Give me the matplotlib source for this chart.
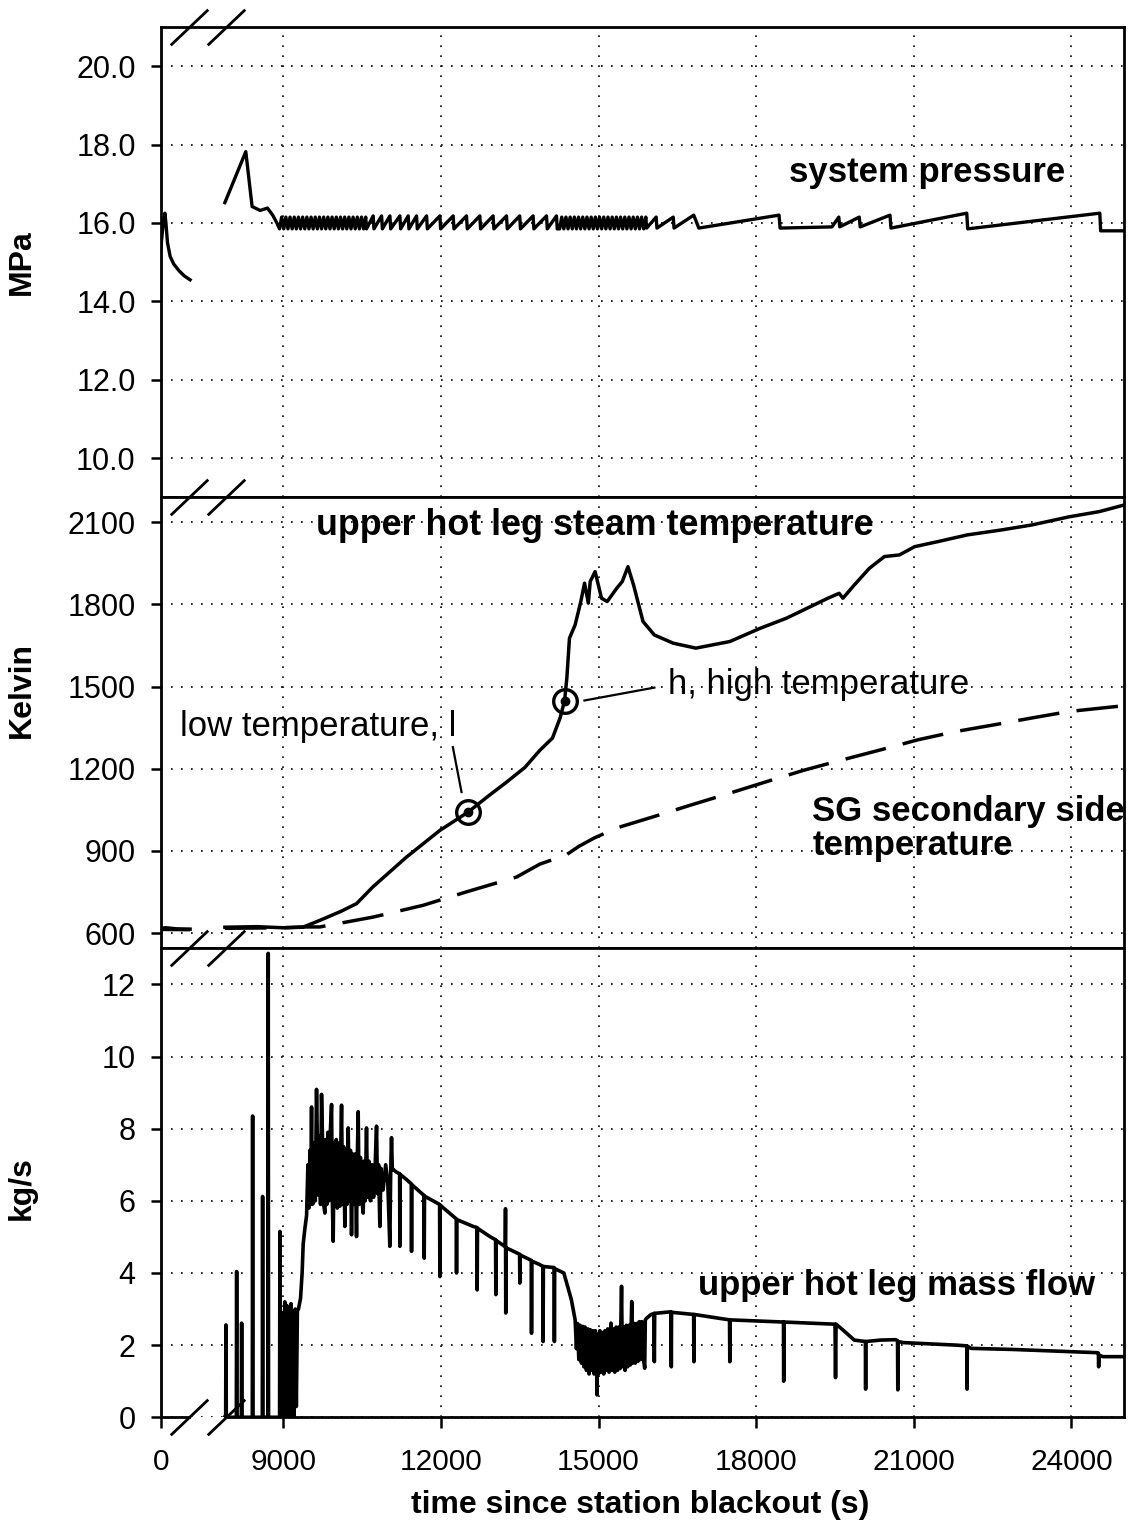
#!/usr/bin/env python3
"""
Station blackout transient: system pressure, upper hot leg steam temperature
and upper hot leg mass flow, stacked on a broken time axis.
"""

import numpy as np
import matplotlib
matplotlib.use("Agg")
import matplotlib.pyplot as plt
from matplotlib.ticker import FormatStrFormatter

plt.rcParams['font.family'] = ['Liberation Sans', 'DejaVu Sans']

# ---------------------------------------------------------------- data (s, MPa)
p_early_t = [0, 20, 50, 80, 100, 130, 180, 250, 350, 450, 560]
p_early_v = [15.3, 15.6, 16.0, 16.25, 16.0, 15.5, 15.15, 14.95, 14.78, 14.65, 14.55]

p_time = [7890, 8288, 8408, 8560, 8700, 8800, 8880,
          8930, 8970, 9010, 9050, 9090, 9130, 9170, 9210, 9250, 9290, 9330, 9370, 9410, 9450,
          9490, 9530, 9570, 9610, 9650, 9690, 9730, 9770, 9810, 9850, 9890, 9930, 9970, 10010,
          10050, 10090, 10130, 10170, 10210, 10250, 10290, 10330, 10370, 10410, 10450, 10490,
          10530, 10570,
          10585, 10712, 10727, 10872, 10887, 11030, 11045, 11220, 11235, 11378, 11393, 11537,
          11552, 11728, 11743, 11981, 11996, 12234, 12249, 12488, 12503, 12741, 12756, 12994,
          13009, 13249, 13264, 13500, 13515, 13755, 13770, 14010, 14025, 14200, 14215,
          14260, 14300, 14340, 14380, 14420, 14460, 14500, 14540, 14580, 14620, 14660, 14700,
          14740, 14780, 14820, 14860, 14900, 14940, 14980, 15020, 15060, 15100, 15140, 15180,
          15220, 15260, 15300, 15340, 15380, 15420, 15460, 15500, 15540, 15580, 15620, 15660,
          15700, 15740, 15780, 15820, 15860, 15900,
          15915, 16097, 16112, 16422, 16437, 16812, 16909, 18435, 18455, 19442, 19572, 19590,
          19961, 19980, 20546, 20565, 22007, 22025, 24539, 24555, 25000]
p_val = [16.52, 17.82, 16.42, 16.32, 16.38, 16.2, 16.0,
         15.85, 16.15, 15.85, 16.15, 15.85, 16.15, 15.85, 16.15, 15.85, 16.15, 15.85, 16.15,
         15.85, 16.15, 15.85, 16.15, 15.85, 16.15, 15.85, 16.15, 15.85, 16.15, 15.85, 16.15,
         15.85, 16.15, 15.85, 16.15, 15.85, 16.15, 15.85, 16.15, 15.85, 16.15, 15.85, 16.15,
         15.85, 16.15, 15.85, 16.15, 15.85, 16.15,
         15.85, 16.18, 15.85, 16.18, 15.85, 16.18, 15.85, 16.18, 15.85, 16.18, 15.85, 16.18,
         15.85, 16.18, 15.85, 16.18, 15.85, 16.18, 15.85, 16.18, 15.85, 16.18, 15.85, 16.18,
         15.85, 16.18, 15.85, 16.18, 15.85, 16.18, 15.85, 16.18, 15.85, 16.18, 15.85,
         15.85, 16.15, 15.85, 16.15, 15.85, 16.15, 15.85, 16.15, 15.85, 16.15, 15.85, 16.15,
         15.85, 16.15, 15.85, 16.15, 15.85, 16.15, 15.85, 16.15, 15.85, 16.15, 15.85, 16.15,
         15.85, 16.15, 15.85, 16.15, 15.85, 16.15, 15.85, 16.15, 15.85, 16.15, 15.85, 16.15,
         15.85, 16.15, 15.85, 16.15, 15.85, 16.15,
         15.87, 16.15, 15.87, 16.15, 15.87, 16.2, 15.87, 16.2, 15.87, 15.9, 16.15, 15.9,
         16.15, 15.9, 16.2, 15.87, 16.25, 15.85, 16.25, 15.8, 15.8]

# ---------------------------------------------------------------- data (s, K)
hl_early_t = [0, 100, 300, 560]
hl_early_v = [618, 620, 616, 615]
sg_early_t = [0, 560]
sg_early_v = [614, 613]

hl_time = [7890, 8500, 9000, 9375, 9698, 10100, 10396, 10706, 11347, 11980, 12519, 12900,
           13249, 13600, 13882, 14124, 14268, 14354, 14397, 14447, 14555, 14663, 14734,
           14806, 14842, 14935, 15057, 15165, 15345, 15452, 15560, 15667, 15847, 16062,
           16421, 16852, 17498, 18072, 18574, 19364, 19579, 19651, 19866, 20153, 20440,
           20727, 21014, 21445, 22019, 22665, 23239, 23957, 24531, 25000]
hl_temp = [622, 624, 620, 622, 647, 680, 708, 769, 878, 975, 1042, 1100,
           1151, 1205, 1267, 1312, 1385, 1448, 1530, 1676, 1725, 1810, 1877,
           1804, 1883, 1919, 1822, 1810, 1858, 1883, 1937, 1870, 1737, 1688,
           1658, 1640, 1664, 1712, 1749, 1822, 1840, 1822, 1870, 1931, 1974,
           1980, 2010, 2028, 2053, 2071, 2089, 2119, 2138, 2162]

sg_time = [7890, 9000, 9380, 9698, 10712, 11664, 12488, 13440, 13882, 14268, 14340, 14627,
           14914, 15345, 16062, 16780, 17498, 18215, 18933, 19651, 20369, 21086, 21804,
           22521, 23239, 23957, 25000]
sg_temp = [618, 620, 623, 623, 659, 702, 751, 805, 852, 878, 880, 917,
           947, 984, 1026, 1069, 1111, 1154, 1196, 1233, 1269, 1306, 1336,
           1360, 1385, 1409, 1430]

# marked points l and h on the hot leg curve
mark_time = [12519, 14354]
mark_temp = [1042, 1448]

# ---------------------------------------------------------------- data (s, kg/s)
mf_time = [7890, 7905, 7911, 7917, 8108, 8114, 8120, 8203, 8209, 8215, 8412, 8418, 8424,
           8602, 8608, 8614, 8709, 8715, 8721, 8931, 8937, 8943,
           8990, 9000, 9012, 9030, 9048, 9068, 9088, 9108, 9128, 9148, 9168, 9188, 9208,
           9228, 9250, 9270, 9290, 9330, 9360, 9380, 9410, 9445,
           9470, 9490, 9508, 9525, 9539, 9550, 9571, 9590, 9610, 9634, 9650, 9666, 9690,
           9710, 9729, 9750, 9770, 9793, 9810, 9830, 9850, 9870, 9890, 9920, 9935, 9951,
           9970, 9990, 10010, 10030, 10050, 10078, 10095, 10110, 10130, 10150, 10173, 10195,
           10215, 10237, 10255, 10280, 10300, 10320, 10345, 10370, 10395, 10410, 10427,
           10445, 10470, 10500, 10522, 10540, 10560, 10585, 10605, 10630, 10660, 10690,
           10720, 10750, 10776, 10795, 10815, 10839, 10860, 10900, 10950, 10990, 11029,
           11045, 11061, 11077, 11093,
           11150, 11215, 11220, 11226, 11347, 11437, 11442, 11448, 11600, 11678, 11683,
           11689, 11976, 11981, 11987, 12293, 12298, 12304, 12615, 12686, 12691, 12697,
           12932, 13041, 13046, 13052, 13225, 13230, 13235, 13240, 13498, 13503, 13509,
           13720, 13725, 13731, 13884, 13940, 13945, 13951, 14155, 14160, 14166, 14340,
           14483,
           14555, 14580, 14600, 14625, 14650, 14675, 14699, 14720, 14745, 14770, 14795,
           14820, 14842, 14865, 14890, 14915, 14940, 14965, 14971, 14978, 15000, 15025,
           15050, 15075, 15100, 15125, 15150, 15175, 15200, 15237, 15260, 15285, 15310,
           15335, 15360, 15385, 15410, 15438, 15455, 15480, 15505, 15530, 15555, 15580,
           15605, 15632, 15650, 15675, 15700, 15725, 15750, 15775, 15800, 15825, 15850,
           15879, 15890, 15919,
           15990, 16055, 16062, 16069, 16349, 16380, 16385, 16390, 16810, 16815, 16820,
           17493, 17498, 17503, 18519, 18524, 18529, 19500, 19510, 19520, 19651, 19866,
           20078, 20083, 20088, 20368, 20655, 20690, 20695, 20700, 20799, 21804, 22008,
           22013, 22018, 22091, 22880, 23957, 24495, 24512, 24517, 24522, 24603, 25000]
mf_flow = [0, 0, 2.56, 0, 0, 4.04, 0, 0, 2.61, 0, 0, 8.35, 0,
           0, 6.12, 0, 0, 12.86, 0, 0, 5.15, 0,
           0, 2.9, 0.2, 3.2, 0, 3.1, 0.2, 3.0, 0, 3.15, 0.1, 2.9, 0,
           3.0, 0.3, 2.95, 3.0, 3.3, 4.0, 4.8, 5.2, 5.6,
           7.0, 5.8, 7.4, 6.0, 8.6, 5.9, 5.93, 7.6, 6.0, 9.09, 7.7, 6.16, 7.8,
           5.9, 8.95, 7.6, 5.9, 5.66, 7.7, 5.9, 7.9, 6.0, 7.7, 8.67, 6.0, 4.88,
           7.6, 5.9, 7.7, 5.8, 7.6, 5.85, 7.5, 8.65, 5.9, 7.5, 5.29, 7.4,
           5.9, 8.02, 6.0, 7.4, 5.06, 7.3, 5.9, 7.3, 5.01, 7.2, 8.47,
           5.9, 7.2, 6.0, 5.66, 7.1, 6.0, 8.02, 6.1, 7.1, 6.0, 7.0,
           6.1, 7.0, 8.07, 6.2, 7.0, 5.29, 6.9, 6.3, 7.0, 6.5, 4.74,
           6.8, 7.75, 6.85, 6.87,
           6.8, 6.75, 4.74, 6.73, 6.59, 6.47, 4.6, 6.45, 6.25, 6.15, 4.41,
           6.13, 5.9, 3.9, 5.88, 5.5, 4.0, 5.48, 5.29, 5.26, 3.53, 5.24,
           5.01, 4.92, 3.4, 4.9, 4.73, 5.78, 2.89, 4.7, 4.52, 3.72, 4.5,
           4.35, 2.33, 4.33, 4.23, 4.18, 2.1, 4.18, 4.15, 2.1, 4.12, 4.0,
           3.26,
           2.7, 1.9, 2.6, 1.6, 2.55, 1.5, 2.52, 1.4, 2.5, 1.3, 2.45,
           1.2, 2.43, 1.3, 2.4, 1.2, 2.4, 1.4, 0.62, 2.3, 1.2, 2.4,
           1.25, 2.35, 1.2, 2.4, 1.3, 2.45, 1.25, 2.61, 1.3, 2.45, 1.25,
           2.5, 1.3, 2.5, 1.35, 3.63, 1.4, 2.5, 1.3, 2.55, 1.4, 2.55,
           1.45, 3.21, 1.5, 2.6, 1.5, 2.6, 1.55, 2.65, 1.6, 2.65, 1.7,
           1.36, 2.7, 2.75,
           2.84, 2.88, 1.54, 2.88, 2.92, 2.92, 1.40, 2.91, 2.85, 1.54, 2.85,
           2.70, 1.54, 2.70, 2.64, 1.0, 2.64, 2.58, 1.1, 2.58, 2.42, 2.14,
           2.1, 0.78, 2.1, 2.14, 2.15, 2.12, 0.76, 2.1, 2.07, 2.0, 1.98,
           0.78, 1.97, 1.91, 1.88, 1.82, 1.79, 1.78, 1.4, 1.72, 1.68, 1.68]

x_ticks = [0, 9000, 12000, 15000, 18000, 21000, 24000]

# broken time axis: 0..700 s kept, 700..7868 s squeezed, later times shifted left
BREAK_LO = 700
BREAK_HI = 7868
SHIFT = 6668
SQUEEZE = (BREAK_HI - SHIFT - BREAK_LO) / (BREAK_HI - BREAK_LO)
BREAK_X = [0.0294, 0.0678]     # break marks, axes fraction


def fwd(t):
    t = np.asarray(t, dtype=float)
    return np.where(t <= BREAK_LO, t,
                    np.where(t >= BREAK_HI, t - SHIFT, BREAK_LO + (t - BREAK_LO) * SQUEEZE))


def inv(x):
    x = np.asarray(x, dtype=float)
    x_hi = BREAK_HI - SHIFT
    return np.where(x <= BREAK_LO, x,
                    np.where(x >= x_hi, x + SHIFT, BREAK_LO + (x - BREAK_LO) / SQUEEZE))


def style_axes(ax, ylim, yticks):
    ax.set_xscale('function', functions=(fwd, inv))
    ax.set_xlim(0, 25000)
    ax.set_ylim(*ylim)
    ax.set_xticks(x_ticks)
    ax.set_yticks(yticks)
    ax.grid(True, color='k', linestyle=(0, (1, 5)), linewidth=1.2)
    for s in ax.spines.values():
        s.set_linewidth(2.0)
    ax.tick_params(axis='y', direction='out', length=7, width=1.8, labelsize=22, pad=11)
    ax.tick_params(axis='x', length=0, labelbottom=False)


def break_marks(ax, y):
    ax.plot(BREAK_X, [y, y], marker=[(-1, -0.95), (1, 0.95)], markersize=27,
            linestyle='none', color='k', mec='k', mew=2, clip_on=False,
            transform=ax.transAxes, zorder=6)


def main():
    fig = plt.figure(figsize=(11.37, 15.35), dpi=100)
    left, width = 0.1413, 0.8473
    ax1 = fig.add_axes([left, 0.6760, width, 0.3064])
    ax2 = fig.add_axes([left, 0.3822, width, 0.2938])
    ax3 = fig.add_axes([left, 0.0767, width, 0.3055])

    # pressure
    style_axes(ax1, (9, 21), [10, 12, 14, 16, 18, 20])
    ax1.yaxis.set_major_formatter(FormatStrFormatter('%.1f'))
    ax1.plot(p_early_t, p_early_v, color='k', lw=2.4)
    ax1.plot(p_time, p_val, color='k', lw=2.4)
    ax1.text(21250, 17.3, 'system pressure', fontsize=25, fontweight='bold',
             ha='center', va='center')
    ax1.set_ylabel('MPa', fontsize=23, fontweight='bold', va='center')
    ax1.yaxis.set_label_coords(-0.144, 0.5)

    # temperatures
    style_axes(ax2, (545, 2190), [600, 900, 1200, 1500, 1800, 2100])
    ax2.plot(hl_early_t, hl_early_v, color='k', lw=2.5)
    ax2.plot(hl_time, hl_temp, color='k', lw=2.5)
    ax2.plot(sg_early_t, sg_early_v, color='k', lw=2.5, dashes=(12, 5))
    ax2.plot(sg_time, sg_temp, color='k', lw=2.5, dashes=(12, 5))
    ax2.plot(mark_time, mark_temp, 'o', ms=17, mfc='none', mec='k', mew=2.4, zorder=5)
    ax2.plot(mark_time, mark_temp, 'o', ms=6, color='k', zorder=5)
    ax2.text(14924, 2087, 'upper hot leg steam temperature', fontsize=25.8,
             fontweight='bold', ha='center', va='center')
    ax2.text(0.020, 0.4707, 'low temperature, l', fontsize=25, ha='left',
             va='baseline', transform=ax2.transAxes)
    ax2.plot([12228, 12393], [1279, 1115], color='k', lw=1.6)
    ax2.plot([14732, 16063], [1449, 1496], color='k', lw=1.6)
    ax2.text(16313, 1471, 'h, high temperature', fontsize=25, ha='left', va='baseline')
    ax2.text(19070, 1009, 'SG secondary side', fontsize=25, fontweight='bold',
             ha='left', va='baseline')
    ax2.text(19070, 886, 'temperature', fontsize=25, fontweight='bold',
             ha='left', va='baseline')
    ax2.set_ylabel('Kelvin', fontsize=23, fontweight='bold', va='center')
    ax2.yaxis.set_label_coords(-0.144, 0.573)

    # mass flow
    style_axes(ax3, (0, 13), [0, 2, 4, 6, 8, 10, 12])
    ax3.plot(mf_time, mf_flow, color='k', lw=2.6)
    ax3.text(16888, 3.4, 'upper hot leg mass flow', fontsize=25, fontweight='bold',
             ha='left', va='baseline')
    ax3.set_ylabel('kg/s', fontsize=23, fontweight='bold', va='center')
    ax3.yaxis.set_label_coords(-0.144, 0.489)
    ax3.tick_params(axis='x', direction='out', length=8, width=1.8, labelsize=21.5,
                    pad=14, labelbottom=True)
    ax3.set_xticklabels([str(v) for v in x_ticks])
    ax3.set_xlabel('time since station blackout (s)', fontsize=23, fontweight='bold',
                   va='center')
    ax3.xaxis.set_label_coords(0.4975, -0.187)

    # broken bottom spine
    ax3.spines['bottom'].set_visible(False)
    ax3.plot([0, BREAK_X[0]], [0, 0], color='k', lw=2.0, transform=ax3.transAxes,
             clip_on=False)
    ax3.plot([0.0667, 1], [0, 0], color='k', lw=2.0, transform=ax3.transAxes,
             clip_on=False)

    for ax in (ax1, ax2, ax3):
        break_marks(ax, 1)
    break_marks(ax3, 0)

    fig.savefig('out.png', dpi=100)


if __name__ == "__main__":
    main()
